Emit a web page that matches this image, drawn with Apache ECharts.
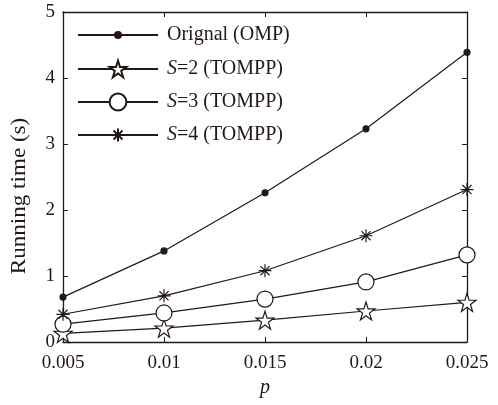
<!DOCTYPE html>
<html>
<head>
<meta charset="utf-8">
<script src="https://cdn.jsdelivr.net/npm/echarts@6/dist/echarts.min.js"></script>
<style>
html,body{margin:0;padding:0;background:#fff;}
#chart{width:498px;height:405px;}
</style>
</head>
<body>
<div id="chart"></div>
<script>
const categories = ['0.005', '0.01', '0.015', '0.02', '0.025'];
const omp = [0.68, 1.38, 2.26, 3.23, 4.39];
const s2 = [0.13, 0.21, 0.33, 0.47, 0.60];
const s3 = [0.27, 0.44, 0.65, 0.91, 1.32];
const s4 = [0.42, 0.70, 1.08, 1.61, 2.31];
const seriesNames = ['Orignal (OMP)', 'S=2 (TOMPP)', 'S=3 (TOMPP)', 'S=4 (TOMPP)'];
const yTicks = [0, 1, 2, 3, 4, 5];
const yName = 'Running time (s)';
const xName = 'p';

const C = '#231815';
const FONT = '"Liberation Serif", "Times New Roman", serif';
const FS = 20;
const TFS = 19;
const STAR = 'path://M50,2 L61.2,36.2 L97.6,36.2 L68.2,57.6 L79.4,92 L50,70.8 L20.6,92 L31.8,57.6 L2.4,36.2 L38.8,36.2 Z';
const AST = 'path://M50,0 L50,100 M0,50 L100,50 M15,15 L85,85 M85,15 L15,85';

const chart = echarts.init(document.getElementById('chart'));
function mk(name, data, symbol, size, fill) {
  return {
    name: name, type: 'line', data: data, symbol: symbol, symbolSize: size,
    showAllSymbol: true,
    lineStyle: {color: C, width: 1.2},
    itemStyle: {color: fill, borderColor: C, borderWidth: 1.2},
    emphasis: {disabled: true},
    z: 3
  };
}
function lg(name, centerY, itemHeight) {
  return {
    left: 72, top: centerY - 14, orient: 'vertical', itemWidth: 80, itemHeight: itemHeight,
    data: [name], selectedMode: false,
    textStyle: {
      fontFamily: FONT, fontSize: FS, color: C, padding: [0, 0, 0, 4], lineHeight: 20,
      rich: {
        i: {fontFamily: FONT, fontSize: FS, fontStyle: 'italic', color: C, lineHeight: 20},
        n: {fontFamily: FONT, fontSize: FS, color: C, lineHeight: 20}
      }
    },
    formatter: function (n) {
      if (n.charAt(0) === 'S') return '{i|S}{n|' + n.slice(1) + '}';
      return n;
    }
  };
}
const axisCommon = {
  axisLine: {show: true, onZero: false, lineStyle: {color: C, width: 1.3}},
  axisTick: {show: true, inside: true, length: 5, lineStyle: {color: C, width: 1}},
  splitLine: {show: false}
};
chart.setOption({
  animation: false,
  backgroundColor: '#fff',
  grid: {left: 63, right: 31, top: 12, bottom: 63},
  legend: [
    lg(seriesNames[0], 34, 7.5),
    lg(seriesNames[1], 68, 21),
    lg(seriesNames[2], 101, 21),
    lg(seriesNames[3], 134, 16)
  ],
  graphic: [{
    type: 'text', x: 19, y: 196, rotation: Math.PI / 2, scaleX: 1.1,
    style: {text: yName, font: '21px ' + FONT, fill: C, textAlign: 'center', textVerticalAlign: 'middle'}
  }],
  xAxis: [
    Object.assign({
      type: 'category', data: categories, boundaryGap: false, position: 'bottom',
      name: xName, nameLocation: 'middle', nameGap: 36,
      nameTextStyle: {fontFamily: FONT, fontSize: FS, fontStyle: 'italic', color: C},
      axisLabel: {fontFamily: FONT, fontSize: TFS, color: C, margin: 12}
    }, axisCommon),
    Object.assign({
      type: 'category', data: categories, boundaryGap: false, position: 'top',
      axisLabel: {show: false}
    }, axisCommon)
  ],
  yAxis: [
    Object.assign({
      type: 'value', min: yTicks[0], max: yTicks[yTicks.length - 1], interval: 1, position: 'left',
      axisLabel: {fontFamily: FONT, fontSize: TFS, color: C, margin: 8}
    }, axisCommon),
    Object.assign({
      type: 'value', min: yTicks[0], max: yTicks[yTicks.length - 1], interval: 1, position: 'right',
      axisLabel: {show: false}
    }, axisCommon)
  ],
  series: [
    mk(seriesNames[0], omp, 'circle', 6, C),
    mk(seriesNames[1], s2, STAR, 18, '#fff'),
    mk(seriesNames[2], s3, 'circle', 16, '#fff'),
    mk(seriesNames[3], s4, AST, 13, 'none')
  ]
});
</script>
</body>
</html>
